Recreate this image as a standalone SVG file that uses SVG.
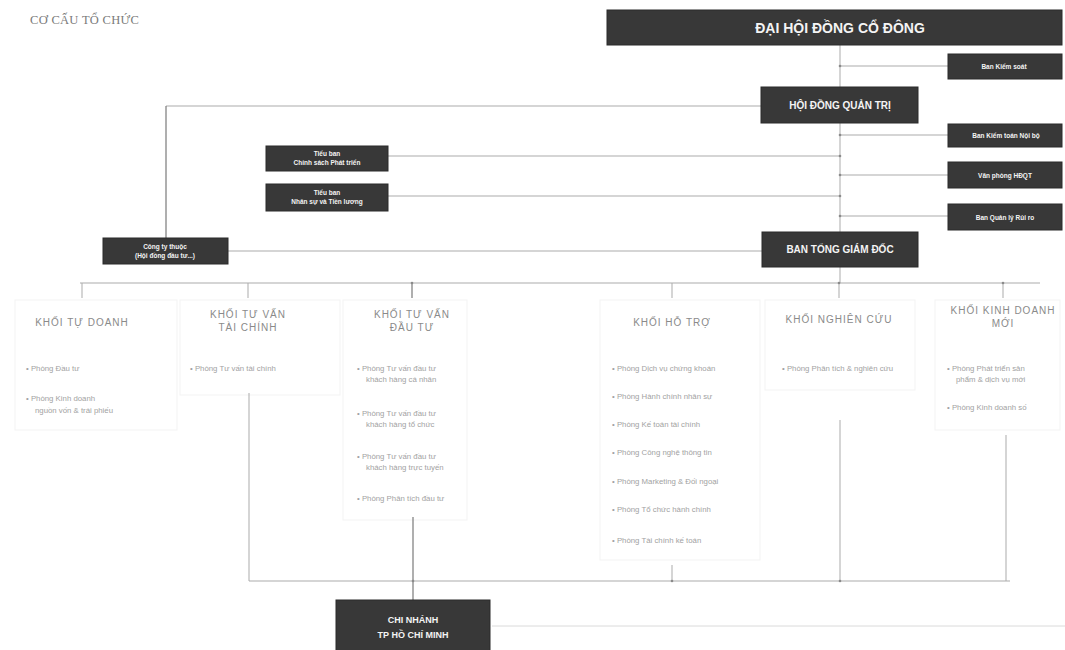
<svg xmlns="http://www.w3.org/2000/svg" width="1065" height="650" viewBox="0 0 1065 650">
<style>
.box{fill:#383838;stroke:#2a2a2a;stroke-width:1}
.bt{font-family:"Liberation Sans",Arial,sans-serif;font-weight:bold;fill:#f4f4f4;text-anchor:middle}
.ln{stroke:#ababab;stroke-width:1;fill:none}
.lnd{stroke:#7a7a7a;stroke-width:1.2;fill:none}
.lnf{stroke:#dadada;stroke-width:1;fill:none}
.panel{fill:none;stroke:#f3f3f3;stroke-width:1}
.hd{font-family:"Liberation Sans",Arial,sans-serif;font-size:10px;fill:#8a8a8a;text-anchor:middle;letter-spacing:1px}
.it{font-family:"Liberation Sans",Arial,sans-serif;font-size:7.8px;fill:#a2a2a2}
.dot{fill:#8a8a8a}
</style>
<rect width="1065" height="650" fill="#ffffff"/>
<text x="30" y="24" font-family="Liberation Serif,serif" font-size="12.5" fill="#7a7a7a" letter-spacing="0.3">CƠ CẤU TỔ CHỨC</text>

<g id="panels">
<rect class="panel" x="15" y="300" width="162" height="130"/>
<rect class="panel" x="180" y="300" width="160" height="95"/>
<rect class="panel" x="343" y="300" width="124" height="220"/>
<rect class="panel" x="600" y="300" width="160" height="260"/>
<rect class="panel" x="765" y="300" width="150" height="90"/>
<rect class="panel" x="935" y="300" width="125" height="130"/>
</g>

<g id="connectors">
<line class="ln" x1="840" y1="45" x2="840" y2="283"/>
<line class="ln" x1="840" y1="66" x2="948" y2="66"/>
<line class="ln" x1="840" y1="135" x2="948" y2="135"/>
<line class="ln" x1="840" y1="175" x2="948" y2="175"/>
<line class="ln" x1="840" y1="216" x2="948" y2="216"/>
<line class="ln" x1="166" y1="106" x2="761" y2="106"/>
<line class="lnd" x1="166" y1="106" x2="166" y2="238"/>
<line class="ln" x1="388" y1="156" x2="840" y2="156"/>
<line class="ln" x1="388" y1="196" x2="840" y2="196"/>
<line class="ln" x1="228" y1="251" x2="762" y2="251"/>
<line class="ln" x1="80" y1="283" x2="1040" y2="283"/>
<line class="ln" x1="82" y1="283" x2="82" y2="298"/>
<line class="ln" x1="248" y1="283" x2="248" y2="298"/>
<line class="lnd" x1="412" y1="283" x2="412" y2="298"/>
<line class="ln" x1="672" y1="283" x2="672" y2="298"/>
<line class="ln" x1="839" y1="283" x2="839" y2="298"/>
<line class="ln" x1="1003" y1="283" x2="1003" y2="298"/>
<line class="ln" x1="249" y1="393" x2="249" y2="581"/>
<line class="lnd" x1="413" y1="517" x2="413" y2="600"/>
<line class="ln" x1="672" y1="565" x2="672" y2="581"/>
<line class="ln" x1="840" y1="420" x2="840" y2="581"/>
<line class="ln" x1="1006" y1="435" x2="1006" y2="581"/>
<line class="ln" x1="249" y1="581" x2="1010" y2="581"/>
<line class="lnf" x1="492" y1="626" x2="1065" y2="626"/>
<circle class="dot" cx="840" cy="66" r="1.3"/>
<circle class="dot" cx="840" cy="135" r="1.3"/>
<circle class="dot" cx="840" cy="156" r="1.3"/>
<circle class="dot" cx="840" cy="175" r="1.3"/>
<circle class="dot" cx="840" cy="196" r="1.3"/>
<circle class="dot" cx="840" cy="216" r="1.3"/>
<circle class="dot" cx="412" cy="283" r="1.3"/>
<circle class="dot" cx="839" cy="283" r="1.3"/>
<circle class="dot" cx="1003" cy="283" r="1.3"/>
<circle class="dot" cx="413" cy="581" r="1.3"/>
<circle class="dot" cx="840" cy="581" r="1.3"/>
<circle class="dot" cx="672" cy="581" r="1.3"/>
</g>

<g id="dhdcd">
<rect class="box" x="607" y="10" width="455" height="35"/>
<text class="bt" x="840" y="33" font-size="14">ĐẠI HỘI ĐỒNG CỔ ĐÔNG</text>
</g>
<g id="ban-kiem-soat">
<rect class="box" x="948" y="54" width="114" height="25"/>
<text class="bt" x="1004" y="69" font-size="6.5">Ban Kiểm soát</text>
</g>
<g id="hdqt">
<rect class="box" x="761" y="87" width="157" height="36"/>
<text class="bt" x="840" y="109" font-size="10">HỘI ĐỒNG QUẢN TRỊ</text>
</g>
<g id="ban-kiem-toan">
<rect class="box" x="948" y="124" width="114" height="23"/>
<text class="bt" x="1006" y="138" font-size="6.5">Ban Kiểm toán Nội bộ</text>
</g>
<g id="van-phong">
<rect class="box" x="948" y="162" width="114" height="26"/>
<text class="bt" x="1005" y="178" font-size="6.5">Văn phòng HĐQT</text>
</g>
<g id="ban-qlrr">
<rect class="box" x="948" y="204" width="114" height="26"/>
<text class="bt" x="1005" y="220" font-size="6.5">Ban Quản lý Rủi ro</text>
</g>
<g id="tieu-ban-1">
<rect class="box" x="266" y="146" width="122" height="25"/>
<text class="bt" x="327" y="156" font-size="6.5">Tiểu ban</text>
<text class="bt" x="327" y="165" font-size="6.5">Chính sách Phát triển</text>
</g>
<g id="tieu-ban-2">
<rect class="box" x="266" y="184" width="122" height="27"/>
<text class="bt" x="327" y="195" font-size="6.5">Tiểu ban</text>
<text class="bt" x="327" y="204" font-size="6.5">Nhân sự và Tiền lương</text>
</g>
<g id="cong-ty">
<rect class="box" x="103" y="238" width="125" height="26"/>
<text class="bt" x="165" y="249" font-size="6.5">Công ty thuộc</text>
<text class="bt" x="165" y="258" font-size="6.5">(Hội đồng đầu tư...)</text>
</g>
<g id="btgd">
<rect class="box" x="762" y="232" width="156" height="35"/>
<text class="bt" x="840" y="253" font-size="10">BAN TỔNG GIÁM ĐỐC</text>
</g>

<g id="khoi-tu-doanh">
<text class="hd" x="82" y="326">KHỐI TỰ DOANH</text>
<text class="it" x="26" y="371">•   Phòng Đầu tư</text>
<text class="it" x="26" y="401">•   Phòng Kinh doanh</text>
<text class="it" x="35" y="413">nguồn vốn &amp; trái phiếu</text>
</g>
<g id="khoi-tvtc">
<text class="hd" x="248" y="318">KHỐI TƯ VẤN</text>
<text class="hd" x="248" y="331">TÀI CHÍNH</text>
<text class="it" x="190" y="371">•  Phòng Tư vấn tài chính</text>
</g>
<g id="khoi-tvdt">
<text class="hd" x="412" y="318">KHỐI TƯ VẤN</text>
<text class="hd" x="412" y="331">ĐẦU TƯ</text>
<text class="it" x="357" y="371">•   Phòng Tư vấn đầu tư</text>
<text class="it" x="366" y="382">khách hàng cá nhân</text>
<text class="it" x="357" y="416">•   Phòng Tư vấn đầu tư</text>
<text class="it" x="366" y="427">khách hàng tổ chức</text>
<text class="it" x="357" y="459">•   Phòng Tư vấn đầu tư</text>
<text class="it" x="366" y="470">khách hàng trực tuyến</text>
<text class="it" x="357" y="501">•   Phòng Phân tích đầu tư</text>
</g>
<g id="khoi-ho-tro">
<text class="hd" x="672" y="326">KHỐI HỖ TRỢ</text>
<text class="it" x="612" y="371">•   Phòng Dịch vụ chứng khoán</text>
<text class="it" x="612" y="399">•   Phòng Hành chính nhân sự</text>
<text class="it" x="612" y="427">•   Phòng Kế toán tài chính</text>
<text class="it" x="612" y="455">•   Phòng Công nghệ thông tin</text>
<text class="it" x="612" y="484">•   Phòng Marketing &amp; Đối ngoại</text>
<text class="it" x="612" y="512">•   Phòng Tổ chức hành chính</text>
<text class="it" x="612" y="543">•   Phòng Tài chính kế toán</text>
</g>
<g id="khoi-nghien-cuu">
<text class="hd" x="839" y="323">KHỐI NGHIÊN CỨU</text>
<text class="it" x="782" y="371">•   Phòng Phân tích &amp; nghiên cứu</text>
</g>
<g id="khoi-kd-moi">
<text class="hd" x="1003" y="314">KHỐI KINH DOANH</text>
<text class="hd" x="1003" y="327">MỚI</text>
<text class="it" x="947" y="371">•   Phòng Phát triển sản</text>
<text class="it" x="956" y="382">phẩm &amp; dịch vụ mới</text>
<text class="it" x="947" y="410">•   Phòng Kinh doanh số</text>
</g>

<g id="chi-nhanh">
<rect class="box" x="336" y="600" width="154" height="52"/>
<text class="bt" x="413" y="623" font-size="9">CHI NHÁNH</text>
<text class="bt" x="413" y="638" font-size="9">TP HỒ CHÍ MINH</text>
</g>
</svg>
